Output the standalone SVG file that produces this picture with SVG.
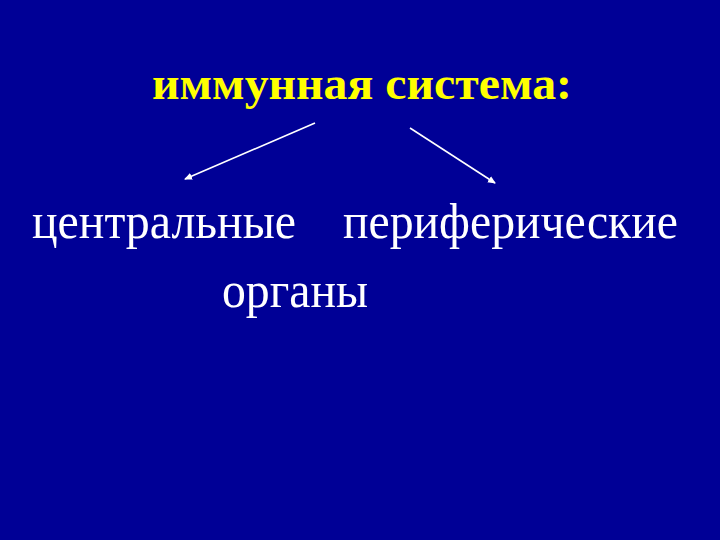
<svg xmlns="http://www.w3.org/2000/svg" width="720" height="540" viewBox="0 0 720 540">
<style>
.t{font-family:"Liberation Serif","Times New Roman",serif;fill:#ffffff;font-size:51px}
.h{font-family:"Liberation Serif","Times New Roman",serif;fill:#ffff00;font-size:47px;font-weight:bold}
.c{stroke:#ffffff;stroke-width:1.6;fill:none}
</style>
<defs>
<marker id="ah" markerWidth="8" markerHeight="8" refX="7" refY="4" orient="auto" markerUnits="userSpaceOnUse">
<path d="M0,0.5 L8,4 L0,7.5 Z" fill="#ffffff"/>
</marker>
</defs>
<rect width="720" height="540" fill="#000096"/>
<g id="title"><text class="h" x="152" y="99" textLength="420" lengthAdjust="spacingAndGlyphs">иммунная система:</text></g>
<g id="central"><text class="t" x="32" y="238" textLength="264" lengthAdjust="spacingAndGlyphs">центральные</text></g>
<g id="peripheral"><text class="t" x="343" y="238" textLength="335" lengthAdjust="spacingAndGlyphs">периферические</text></g>
<g id="organs"><text class="t" x="222" y="307" textLength="146" lengthAdjust="spacingAndGlyphs">органы</text></g>
<g id="connectors">
<line class="c" x1="315" y1="123" x2="185" y2="179" marker-end="url(#ah)"/>
<line class="c" x1="410" y1="128" x2="495" y2="183" marker-end="url(#ah)"/>
</g>
</svg>
